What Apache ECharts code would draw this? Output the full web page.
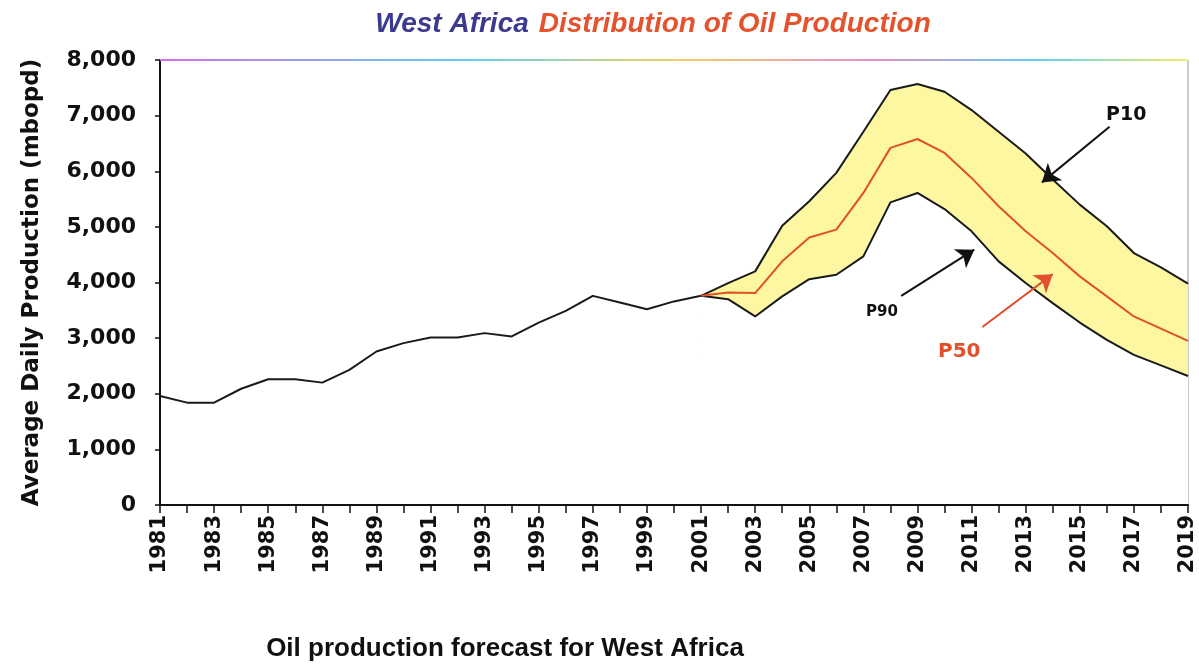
<!DOCTYPE html>
<html>
<head>
<meta charset="utf-8">
<script src="https://cdn.jsdelivr.net/npm/echarts@6/dist/echarts.min.js"></script>
<style>
  html, body { margin: 0; padding: 0; background: #fff; }
  #chart { width: 1199px; height: 667px; }
</style>
</head>
<body>
<div id="chart"></div>
<script>
// years on the x axis
const years = [1981, 1982, 1983, 1984, 1985, 1986, 1987, 1988, 1989, 1990,
  1991, 1992, 1993, 1994, 1995, 1996, 1997, 1998, 1999, 2000,
  2001, 2002, 2003, 2004, 2005, 2006, 2007, 2008, 2009, 2010,
  2011, 2012, 2013, 2014, 2015, 2016, 2017, 2018, 2019];

// historical production 1981-2001 (mbopd)
const history = [1960, 1840, 1840, 2090, 2260, 2260, 2200, 2430, 2760, 2910,
  3010, 3010, 3090, 3030, 3280, 3490, 3760, 3640, 3520, 3660, 3760];

// forecast 2001-2019
const forecastYears = years.slice(20);
const p10 = [3760, 3990, 4200, 5020, 5460, 5970, 6710, 7460, 7570, 7430,
  7100, 6710, 6320, 5850, 5400, 5010, 4530, 4270, 3980];
const p50 = [3760, 3820, 3810, 4380, 4810, 4950, 5610, 6420, 6580, 6330,
  5880, 5370, 4920, 4530, 4110, 3750, 3390, 3170, 2950];
const p90 = [3760, 3700, 3390, 3750, 4060, 4140, 4470, 5440, 5610, 5320,
  4920, 4380, 3990, 3630, 3280, 2970, 2700, 2510, 2320];

const yTicks = [0, 1000, 2000, 3000, 4000, 5000, 6000, 7000, 8000];

const chart = echarts.init(document.getElementById('chart'));

const pair = (xs, vs) => xs.map((x, i) => [x, vs[i]]);

const option = {
  backgroundColor: '#fff',
  animation: false,
  title: [
    {
      text: '{a|West Africa}  {b|Distribution of Oil Production}',
      left: 648,
      top: 5,
      textAlign: 'center',
      textStyle: {
        rich: {
          a: { color: '#3b3a8e', fontSize: 28, fontWeight: 'bold', fontStyle: 'italic', fontFamily: 'Liberation Sans' },
          b: { color: '#e4532d', fontSize: 28, fontWeight: 'bold', fontStyle: 'italic', fontFamily: 'Liberation Sans' }
        }
      }
    },
    {
      text: 'Oil production forecast for West Africa',
      left: 500,
      top: 631,
      textAlign: 'center',
      textStyle: { color: '#111', fontSize: 26, fontWeight: 'bold', fontFamily: 'Liberation Sans' }
    }
  ],
  grid: {
    left: 160, right: 11, top: 60, bottom: 162,
    show: true, borderColor: '#999', borderWidth: 1
  },
  xAxis: {
    type: 'value',
    z: 6,
    min: years[0],
    max: years[years.length - 1],
    interval: 1,
    axisLine: { lineStyle: { color: '#111', width: 2 } },
    axisTick: { length: 8, lineStyle: { color: '#111', width: 1.5 } },
    splitLine: { show: false },
    axisLabel: {
      rotate: 90,
      margin: 10,
      color: '#111',
      fontSize: 21,
      fontWeight: 'bold',
      fontFamily: 'DejaVu Sans',
      formatter: v => ((v - years[0]) % 2 === 0 ? String(v) : '')
    }
  },
  yAxis: {
    type: 'value',
    z: 6,
    min: yTicks[0],
    max: yTicks[yTicks.length - 1],
    interval: 1000,
    name: 'Average Daily Production (mbopd)',
    nameLocation: 'middle',
    nameGap: 116,
    nameTextStyle: { color: '#111', fontSize: 23, fontWeight: 'bold', fontFamily: 'DejaVu Sans' },
    axisLine: { show: true, lineStyle: { color: '#111', width: 2 } },
    axisTick: { show: true, length: 5, lineStyle: { color: '#111', width: 1.5 } },
    splitLine: { show: false },
    axisLabel: {
      margin: 24,
      color: '#111',
      fontSize: 22,
      fontWeight: 'bold',
      fontFamily: 'DejaVu Sans',
      formatter: v => v.toLocaleString('en-US')
    }
  },
  series: [
    {
      // yellow band: fill under P10, then P90 masks below it in white
      name: 'P10 fill',
      type: 'line',
      data: pair(forecastYears, p10),
      symbol: 'none',
      lineStyle: { width: 0 },
      areaStyle: { color: '#fdf7a2', opacity: 1 },
      z: 1
    },
    {
      name: 'P90 mask',
      type: 'line',
      data: pair(forecastYears, p90),
      symbol: 'none',
      lineStyle: { width: 0 },
      areaStyle: { color: '#ffffff', opacity: 1 },
      z: 1
    },
    {
      name: 'P10',
      type: 'line',
      data: pair(forecastYears, p10),
      symbol: 'none',
      lineStyle: { color: '#1a1a1a', width: 2 },
      z: 3
    },
    {
      name: 'P90',
      type: 'line',
      data: pair(forecastYears, p90),
      symbol: 'none',
      lineStyle: { color: '#1a1a1a', width: 2 },
      z: 3
    },
    {
      name: 'P50',
      type: 'line',
      data: pair(forecastYears, p50),
      symbol: 'none',
      lineStyle: { color: '#e0502a', width: 2 },
      z: 4,
      markLine: {
        silent: true,
        symbol: ['none', 'arrow'],
        symbolSize: 17,
        label: { show: false },
        data: [
          [{ coord: [2016.1, 6800], lineStyle: { color: '#111', width: 2, type: 'solid' } }, { coord: [2013.6, 5800] }],
          [{ coord: [2008.4, 3760], lineStyle: { color: '#111', width: 2, type: 'solid' } }, { coord: [2011.1, 4590] }],
          [{ coord: [2011.4, 3200], lineStyle: { color: '#e0502a', width: 2, type: 'solid' } }, { coord: [2014.0, 4150] }]
        ]
      }
    },
    {
      name: 'History',
      type: 'line',
      data: pair(years.slice(0, history.length), history),
      symbol: 'none',
      lineStyle: { color: '#1a1a1a', width: 2 },
      z: 4
    }
  ],
  graphic: [
    {
      type: 'line',
      shape: { x1: 160, y1: 60, x2: 1188, y2: 60 },
      style: {
        lineWidth: 2,
        stroke: new echarts.graphic.LinearGradient(0, 0, 1, 0, [
          { offset: 0, color: '#d070e8' },
          { offset: 0.3, color: '#60d0f0' },
          { offset: 0.5, color: '#f0d060' },
          { offset: 0.7, color: '#e090d0' },
          { offset: 0.85, color: '#60d0f0' },
          { offset: 1, color: '#f0f060' }
        ])
      },
      z: 10
    },
    {
      type: 'text', left: 1106, top: 106, z: 10,
      style: { text: 'P10', fill: '#111', font: 'bold 19px DejaVu Sans' }
    },
    {
      type: 'text', left: 866, top: 305, z: 10,
      style: { text: 'P90', fill: '#111', font: 'bold 15px DejaVu Sans' }
    },
    {
      type: 'text', left: 938, top: 342, z: 10,
      style: { text: 'P50', fill: '#e0502a', font: 'bold 20px DejaVu Sans' }
    }
  ]
};

chart.setOption(option);

window.addEventListener('resize', function () {
  chart.resize();
});
</script>
</body>
</html>
